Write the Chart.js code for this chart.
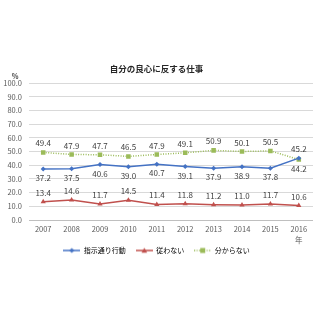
<!DOCTYPE html>
<html><head><meta charset="utf-8">
<script src="https://cdn.jsdelivr.net/npm/chart.js@4"></script>
<style>html,body{margin:0;padding:0;background:#fff}</style>
</head><body>
<canvas id="c" width="320" height="320" style="width:320px;height:320px;display:block"></canvas>
<script>
const chartTitle = '自分の良心に反する仕事';
const yUnit = '%';
const years = ['2007','2008','2009','2010','2011','2012','2013','2014','2015','2016'];
const yearUnit = '年';
const seriesNames = ['指示通り行動','従わない','分からない'];
const followOrders = [37.2,37.5,40.6,39.0,40.7,39.1,37.9,38.9,37.8,45.2];
const disobey      = [13.4,14.6,11.7,14.5,11.4,11.8,11.2,11.0,11.7,10.6];
const dontKnow     = [49.4,47.9,47.7,46.5,47.9,49.1,50.9,50.1,50.5,44.2];

const FONT = "'Noto Sans CJK JP', sans-serif";
const BLUE = '#4472C4', RED = '#C0504D', GREEN = '#9BBB59';

function legendIcon(color, style, dash){
  const c = document.createElement('canvas');
  c.width = 17; c.height = 8;
  const g = c.getContext('2d');
  g.strokeStyle = color; g.lineWidth = 1.5;
  if (dash) g.setLineDash(dash);
  g.beginPath(); g.moveTo(0,4); g.lineTo(17,4); g.stroke();
  g.setLineDash([]);
  g.fillStyle = color;
  g.beginPath();
  if (style==='diamond'){ g.moveTo(8.5,1.5); g.lineTo(11,4); g.lineTo(8.5,6.5); g.lineTo(6,4); g.closePath(); }
  else if (style==='triangle'){ g.moveTo(8.5,1.2); g.lineTo(11.3,6.2); g.lineTo(5.7,6.2); g.closePath(); }
  else { g.rect(6,1.5,5,5); }
  g.fill();
  return c;
}
const icons = [legendIcon(BLUE,'diamond'), legendIcon(RED,'triangle'), legendIcon(GREEN,'square',[1,1.5])];

const labelPlugin = {
  id: 'valueLabels',
  afterDatasetsDraw(chart){
    const ctx = chart.ctx;
    ctx.save();
    ctx.font = '8px ' + FONT;
    ctx.fillStyle = '#404040';
    ctx.textAlign = 'center';
    ctx.textBaseline = 'middle';
    chart.data.datasets.forEach((ds, di) => {
      const meta = chart.getDatasetMeta(di);
      meta.data.forEach((pt, i) => {
        let above = true;
        if (di === 0) above = followOrders[i] > dontKnow[i];
        if (di === 2) above = dontKnow[i] >= followOrders[i];
        ctx.fillText(ds.data[i].toFixed(1), pt.x, pt.y + (above ? -9 : 9));
      });
    });
    ctx.restore();
  },
  afterDraw(chart){
    const ctx = chart.ctx;
    ctx.save();
    ctx.font = 'bold 7px ' + FONT;
    ctx.fillStyle = '#404040';
    ctx.textAlign = 'center';
    ctx.textBaseline = 'middle';
    ctx.fillText(yUnit, 15, 76);
    const xs = chart.scales.x;
    ctx.font = '7.5px ' + FONT;
    ctx.fillStyle = '#595959';
    ctx.fillText(yearUnit, xs.getPixelForValue(years.length - 1), chart.chartArea.bottom + 20);
    ctx.restore();
  }
};

new Chart(document.getElementById('c'), {
  type: 'line',
  data: {
    labels: years,
    datasets: [
      { label: seriesNames[0], data: followOrders, borderColor: BLUE, backgroundColor: BLUE, borderWidth: 1.5,
        pointStyle: 'rectRot', pointRadius: 2.5, pointBorderWidth: 0, tension: 0 },
      { label: seriesNames[1], data: disobey, borderColor: RED, backgroundColor: RED, borderWidth: 1.5,
        pointStyle: 'triangle', pointRadius: 3, pointBorderWidth: 0, tension: 0 },
      { label: seriesNames[2], data: dontKnow, borderColor: GREEN, backgroundColor: GREEN, borderWidth: 1.5,
        borderDash: [1,1.5], pointStyle: 'rect', pointRadius: 3.2, pointBorderWidth: 0, tension: 0 }
    ]
  },
  options: {
    responsive: false,
    animation: false,
    layout: { padding: { left: 0, right: 7, top: 0, bottom: 56 } },
    plugins: {
      title: { display: true, text: chartTitle, color: '#262626',
        font: { family: FONT, size: 8.5, weight: 'bold' }, padding: { top: 64, bottom: 9 } },
      tooltip: { enabled: false },
      legend: {
        position: 'bottom',
        labels: {
          usePointStyle: true, pointStyleWidth: 17, padding: 10,
          color: '#595959', font: { family: FONT, size: 7 },
          generateLabels(chart){
            return chart.data.datasets.map((ds,i)=>({
              text: ds.label, pointStyle: icons[i], fillStyle: ds.borderColor,
              strokeStyle: ds.borderColor, lineWidth: 0, datasetIndex: i, hidden: false
            }));
          }
        }
      }
    },
    scales: {
      x: {
        offset: true,
        grid: { display: false, drawTicks: false },
        border: { display: false },
        ticks: { color: '#595959', font: { family: FONT, size: 7.5 }, padding: 4.5, maxRotation: 0, autoSkip: false },
        afterFit(scale){ scale.height = 17; }
      },
      y: {
        min: 0, max: 100,
        border: { display: false },
        grid: { color: ctx => ctx.tick && ctx.tick.value === 0 ? '#BFBFBF' : '#D9D9D9', drawTicks: false, lineWidth: 1 },
        ticks: { stepSize: 10, color: '#595959', font: { family: FONT, size: 7.5 }, padding: 7,
          callback: v => v.toFixed(1) },
        afterFit(scale){ scale.width = 29; }
      }
    }
  },
  plugins: [labelPlugin]
});
</script>
</body></html>
